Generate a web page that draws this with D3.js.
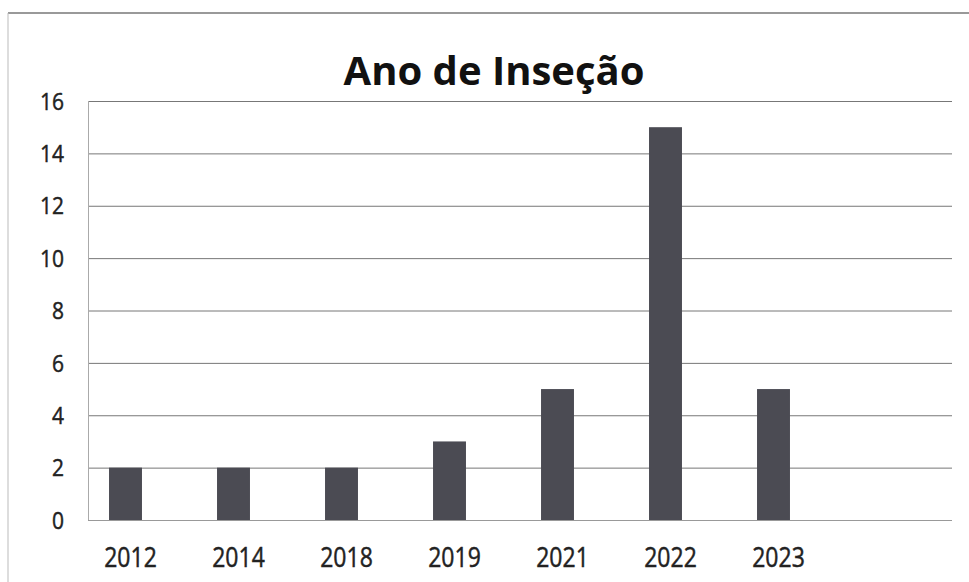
<!DOCTYPE html>
<html><head><meta charset="utf-8">
<script src="https://cdn.jsdelivr.net/npm/d3@7"></script>
<style>body{margin:0;background:#fff}svg{display:block}</style>
</head><body>
<svg id="c" width="969" height="582"></svg>
<script>
const categories = ["2012","2014","2018","2019","2021","2022","2023"];
const values = [2,2,2,3,5,15,5];
const yTicks = [0,2,4,6,8,10,12,14,16];
const title = "Ano de Inseção";

const svg = d3.select("#c");
const plotL = 88, plotR = 952, plotT = 101, plotB = 520;

// frame
svg.append("line").attr("x1",8).attr("x2",969).attr("y1",13).attr("y2",13).attr("stroke","#777").attr("stroke-width",1.5);
svg.append("line").attr("x1",8).attr("x2",8).attr("y1",13).attr("y2",582).attr("stroke","#bbb").attr("stroke-width",1);

const y = d3.scaleLinear().domain([0,16]).range([plotB, plotT]);
const x = d3.scaleBand().domain(categories).range([71.5, 71.5 + 108*7]).paddingInner(0.695).paddingOuter(0.3475);

// gridlines
svg.append("g").selectAll("line").data(yTicks).join("line")
  .attr("x1",plotL).attr("x2",plotR)
  .attr("y1",d=>y(d)+0.5).attr("y2",d=>y(d)+0.5)
  .attr("stroke",d=>d===0?"#999":"#777").attr("stroke-width",1);
svg.append("line").attr("x1",plotL+0.5).attr("x2",plotL+0.5).attr("y1",plotT).attr("y2",plotB).attr("stroke","#aaa");

// y axis labels
const yAxis = d3.axisLeft(y).tickValues(yTicks).tickSize(0).tickPadding(0);
const gy = svg.append("g").attr("transform","translate(64,0)").call(yAxis);
gy.select(".domain").remove();
gy.selectAll(".tick text").attr("font-family","'Open Sans', sans-serif").attr("font-size",21).attr("fill","#222")
  .attr("stroke","#222").attr("stroke-width",0.4)
  .attr("dy","0.36em").attr("transform","scale(1,1.15)")
  .each(function(){ const t=d3.select(this.parentNode).attr("transform"); });
// apply vertical stretch around each tick center
gy.selectAll(".tick").each(function(d){
  const g = d3.select(this);
  g.select("text").attr("transform",null).attr("dy","0.36em");
  g.attr("transform",`translate(0,${y(d)}) scale(1,1.15)`);
});

// bars
svg.append("g").selectAll("rect").data(values).join("rect")
  .attr("x",(d,i)=>x(categories[i]))
  .attr("width",x.bandwidth())
  .attr("y",d=>y(d))
  .attr("height",d=>plotB-y(d))
  .attr("fill","#4b4b53");

// x axis labels
const xAxis = d3.axisBottom(x).tickSize(0).tickPadding(0);
const gx = svg.append("g").attr("transform","translate(5,544)").call(xAxis);
gx.select(".domain").remove();
gx.selectAll(".tick").each(function(d){
  const g = d3.select(this);
  g.attr("transform",`translate(${x(d)+x.bandwidth()/2},0) scale(1,1.2)`);
});
gx.selectAll("text").attr("font-family","'Open Sans', sans-serif").attr("font-size",23).attr("fill","#222")
  .attr("stroke","#222").attr("stroke-width",0.4)
  .attr("dy","0").attr("dominant-baseline","hanging");

// title
svg.append("text").attr("x",494).attr("y",85).attr("text-anchor","middle")
  .attr("font-family","'Open Sans', sans-serif").attr("font-weight","bold").attr("font-size",40)
  .attr("fill","#111").text(title);
</script>
</body></html>
